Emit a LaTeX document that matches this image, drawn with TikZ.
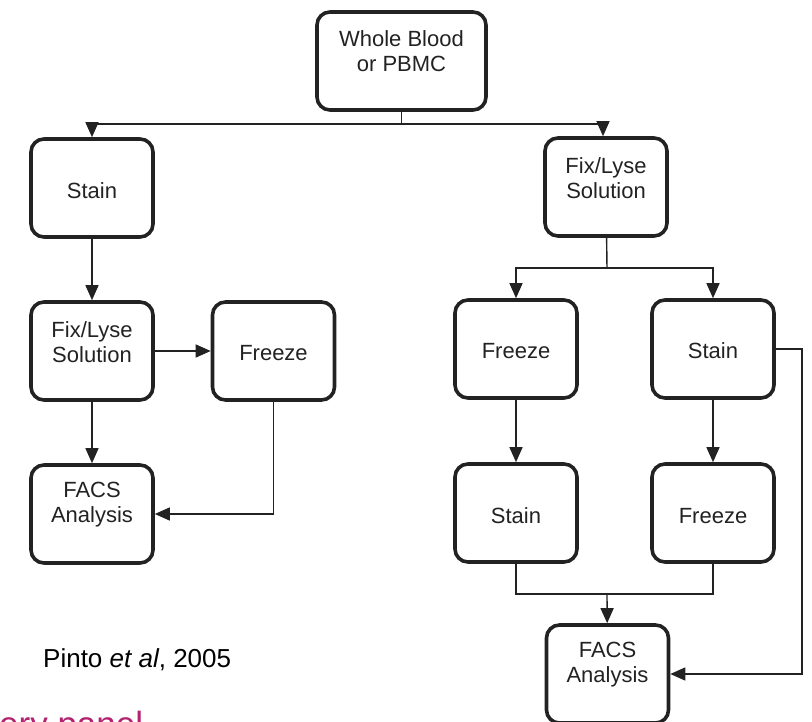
\documentclass[tikz,border=0pt]{standalone}
\usepackage{fontspec}
\setmainfont{Liberation Sans}
\usetikzlibrary{arrows.meta}
\definecolor{ink}{RGB}{34,34,34}
\definecolor{plum}{RGB}{178,34,110}
\begin{document}
\begin{tikzpicture}[x=1pt,y=-1pt,
  blk/.style={draw=ink,line width=3.6pt,rounded corners=13pt,minimum width=122pt,minimum height=98pt,inner sep=0pt},
  txt/.style={text=ink,font=\fontsize{22}{25}\selectfont,align=center,inner sep=0pt},
  conn/.style={draw=ink,line width=1.4pt},
  arr/.style={conn,-{Triangle[length=15pt,width=13pt]}}]
\clip (0,0) rectangle (812,722);
\node[blk,minimum width=169pt] (wb) at (401.5,61) {};
\node[txt] (wbt) at (401.5,51) {Whole Blood\\or PBMC};
\node[blk] (s1) at (92,188) {};
\node[txt] (s1t) at (92,191) {Stain};
\node[blk] (f1) at (92,351) {};
\node[txt] (f1t) at (92,342) {Fix/Lyse\\Solution};
\node[blk] (z1) at (273.5,351) {};
\node[txt] (z1t) at (273.5,353) {Freeze};
\node[blk] (a1) at (92,514) {};
\node[txt] (a1t) at (92,505) {FACS\\Analysis};
\node[blk] (f2) at (606,187) {};
\node[txt] (f2t) at (606,178) {Fix/Lyse\\Solution};
\node[blk] (z2) at (516,349) {};
\node[txt] (z2t) at (516,351) {Freeze};
\node[blk] (s2) at (713,349) {};
\node[txt] (s2t) at (713,351) {Stain};
\node[blk] (s3) at (516,513) {};
\node[txt] (s3t) at (516,516) {Stain};
\node[blk] (z3) at (713,513) {};
\node[txt] (z3t) at (713,516) {Freeze};
\node[blk] (a2) at (607.5,674) {};
\node[txt] (a2t) at (607.5,665) {FACS\\Analysis};
\node[text=black,font=\fontsize{26}{30}\selectfont,anchor=base west,inner sep=0pt] (ref) at (43,667) {Pinto \textit{et al}, 2005};
\node[text=plum,font=\fontsize{35}{40}\selectfont,anchor=base west,inner sep=0pt] (cap) at (-1,736) {ery panel};
\coordinate (top) at (401.5,124);
\coordinate (mid) at (607,268);
\coordinate (low) at (607,594);
\coordinate (side) at (802,350);
\draw[conn] (wb) -- (top);
\draw[arr] (top) -| (s1);
\draw[arr] (top) -| ([xshift=-3pt]f2.north);
\draw[arr] (s1) -- (f1);
\draw[arr] (f1) -- (z1);
\draw[arr] (f1) -- (a1);
\draw[arr] (z1) |- (a1);
\draw[conn] (f2) -- (mid);
\draw[arr] (mid) -| (z2);
\draw[arr] (mid) -| (s2);
\draw[arr] (z2) -- (s3);
\draw[arr] (s2) -- (z3);
\draw[conn] (s3) |- (low) -| (z3);
\draw[arr] (low) -- (a2);
\draw[arr] (s2) -| (side) |- (a2);
\end{tikzpicture}
\end{document}
